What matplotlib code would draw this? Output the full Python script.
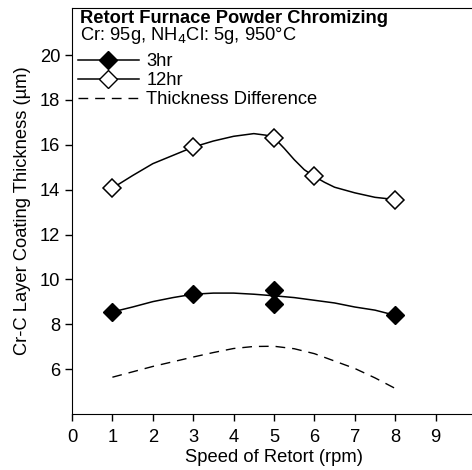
import matplotlib.pyplot as plt
from matplotlib.lines import Line2D

plt.rcParams['font.family'] = ['Liberation Sans', 'DejaVu Sans']

# measured points
speed = [1, 3, 5, 6, 8]
t12 = [14.07, 15.90, 16.32, 14.63, 13.56]
speed3 = [1, 3, 5, 5, 8]
t3 = [8.55, 9.34, 9.52, 8.92, 8.40]

# fitted curves
curve12_x = [1, 1.5, 2, 2.5, 3, 3.5, 4, 4.5, 4.8, 5, 5.25, 5.5, 5.75, 6, 6.25, 6.5, 7, 7.5, 8]
curve12 = [14.07, 14.63, 15.16, 15.53, 15.90, 16.17, 16.38, 16.50, 16.43, 16.32, 15.85,
           15.34, 14.89, 14.59, 14.33, 14.11, 13.86, 13.66, 13.56]
curve_x = [1, 1.5, 2, 2.5, 3, 3.5, 4, 4.5, 5, 5.5, 6, 6.5, 7, 7.5, 8]
curve3 = [8.55, 8.77, 9.01, 9.19, 9.34, 9.39, 9.39, 9.34, 9.27, 9.19, 9.07, 8.95, 8.77, 8.63, 8.40]
diff = [5.64, 5.88, 6.12, 6.33, 6.54, 6.74, 6.92, 7.01, 7.02, 6.91, 6.69, 6.36, 6.03, 5.61, 5.14]

fs = 13.2
dash = (0, (7, 5))

fig = plt.figure(figsize=(4.72, 4.70), dpi=100)
ax = fig.add_axes([72 / 472, 1 - 414 / 470, 404 / 472, 406 / 470])

ax.plot(curve12_x, curve12, color='black', lw=1.1)
ax.plot(curve_x, curve3, color='black', lw=1.1)
ax.plot(curve_x, diff, color='black', lw=1.0, ls=dash)
ax.plot(speed, t12, ls='none', marker='D', ms=9, mfc='white', mec='black', mew=1.1)
ax.plot(speed3, t3, ls='none', marker='D', ms=9, mfc='black', mec='black')

ax.set_xlim(0, 10)
ax.set_ylim(4, 22.1)
ax.set_xticks(range(0, 10))
ax.set_yticks([6, 8, 10, 12, 14, 16, 18, 20])
ax.tick_params(direction='out', length=5, labelsize=fs, width=1)
ax.tick_params(axis='x', pad=6)
ax.spines['right'].set_visible(False)
ax.set_xlabel('Speed of Retort (rpm)', fontsize=fs, labelpad=2)
ax.set_ylabel('Cr-C Layer Coating Thickness (µm)', fontsize=fs, labelpad=6)

ax.text(0.02, 0.996, 'Retort Furnace Powder Chromizing', transform=ax.transAxes,
        fontsize=fs, fontweight='bold', va='top', ha='left')
ax.text(0.02, 0.958, 'Cr: 95g, NH$_4$Cl: 5g, 950°C', transform=ax.transAxes,
        fontsize=fs, va='top', ha='left')

handles = [
    Line2D([], [], color='black', lw=1.1, marker='D', ms=9, mfc='black', mec='black'),
    Line2D([], [], color='black', lw=1.1, marker='D', ms=9, mfc='white', mec='black'),
    Line2D([], [], color='black', lw=1.0, ls=dash),
]
ax.legend(handles, ['3hr', '12hr', 'Thickness Difference'], loc='upper left',
          bbox_to_anchor=(-0.018, 0.92), frameon=False, fontsize=fs, numpoints=1,
          handlelength=3.35, handletextpad=0.4, labelspacing=0.1, borderpad=0.2)

fig.savefig('out.png', dpi=100)
